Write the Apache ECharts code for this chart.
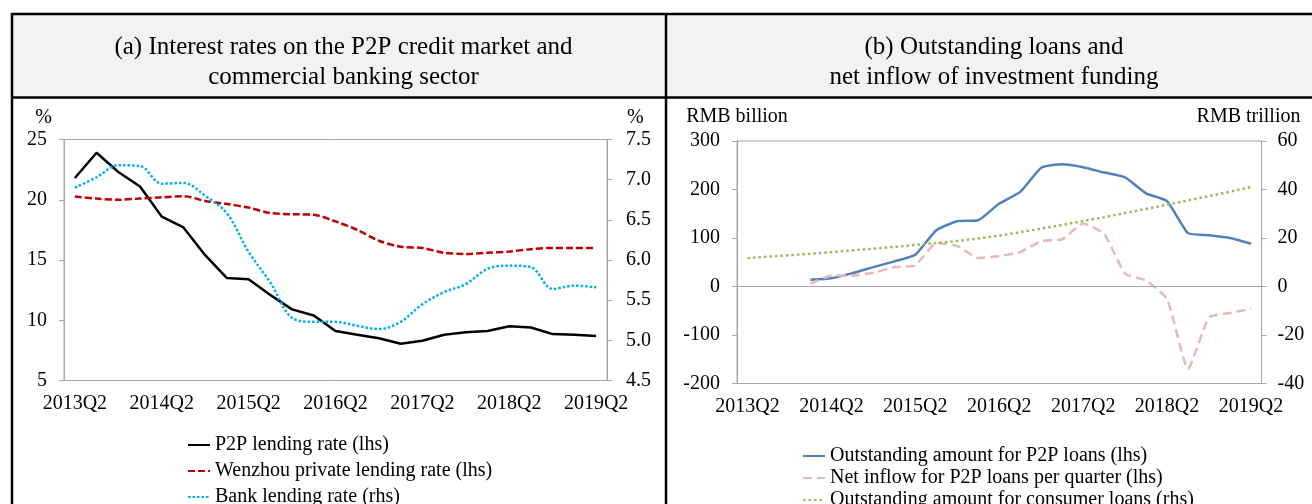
<!DOCTYPE html>
<html>
<head>
<meta charset="utf-8">
<script src="https://cdn.jsdelivr.net/npm/echarts@6/dist/echarts.min.js"></script>
<style>
  html, body { margin: 0; padding: 0; background: #fff; }
  #main { width: 1312px; height: 504px; }
</style>
</head>
<body>
<div id="main"></div>
<script>
// quarters 2013Q2 .. 2019Q2
const quarters = [
  '2013Q2','2013Q3','2013Q4','2014Q1','2014Q2','2014Q3','2014Q4','2015Q1','2015Q2',
  '2015Q3','2015Q4','2016Q1','2016Q2','2016Q3','2016Q4','2017Q1','2017Q2','2017Q3',
  '2017Q4','2018Q1','2018Q2','2018Q3','2018Q4','2019Q1','2019Q2'
];

// panel (a), %
const p2pRate = [21.8, 23.9, 22.3, 21.1, 18.6, 17.7, 15.4, 13.5, 13.4, 12.1, 10.9, 10.4, 9.1,
  8.8, 8.5, 8.05, 8.3, 8.8, 9.0, 9.1, 9.5, 9.4, 8.85, 8.8, 8.7];
const wenzhouRate = [20.27, 20.1, 20.0, 20.1, 20.2, 20.3, 19.9, 19.65, 19.35, 18.9, 18.8, 18.75, 18.2,
  17.5, 16.6, 16.1, 16.0, 15.6, 15.5, 15.6, 15.7, 15.9, 16.0, 16.0, 16.0];
const bankRate = [6.9, 7.03, 7.18, 7.17, 6.95, 6.96, 6.8, 6.58, 6.1, 5.72, 5.28, 5.23, 5.23,
  5.18, 5.14, 5.23, 5.45, 5.6, 5.7, 5.89, 5.93, 5.91, 5.64, 5.68, 5.66];

// panel (b)
const p2pOutstanding = [null, null, null, 13.9, 17.2, 27.6, 40, 51.8, 65.6, 116, 134.6, 136.6, 171,
  195, 245, 252, 246, 235, 225, 192, 176, 110, 105.6, 100, 88];
const p2pInflow = [null, null, null, 5.6, 22.8, 22.8, 28.3, 40, 43.5, 89.7, 83.5, 58.6, 62.8,
  71, 93.8, 97.3, 129.8, 109, 26.3, 12.4, -25.5, -170, -63.5, -54.5, -46];
const consumerLoans = [11.7, 12.3, 12.9, 13.5, 14.2, 14.9, 15.6, 16.3, 17.1, 17.9, 18.8, 19.8, 21.0,
  22.4, 23.9, 25.4, 27.0, 28.6, 30.3, 32.0, 33.7, 35.5, 37.3, 39.1, 41.0];

const font = 'Liberation Serif, Times New Roman, serif';
const axisGrey = '#a6a6a6';

const chart = echarts.init(document.getElementById('main'));

const xAxisBase = (grid) => ({
  type: 'category',
  gridIndex: grid,
  data: quarters,
  boundaryGap: true,
  axisLine: { lineStyle: { color: axisGrey, width: 1 } },
  axisTick: { interval: 0, length: 5, lineStyle: { color: axisGrey } },
  axisLabel: { interval: 3, margin: 13, color: '#000', fontFamily: font, fontSize: 20 },
  splitLine: { show: false }
});

const yAxisBase = (grid, pos, min, max, interval, margin) => ({
  type: 'value',
  gridIndex: grid,
  position: pos,
  min: min,
  max: max,
  interval: interval,
  axisLine: { show: true, lineStyle: { color: axisGrey, width: 1 } },
  axisTick: { show: true, length: 5, lineStyle: { color: axisGrey } },
  axisLabel: { margin: margin, color: '#000', fontFamily: font, fontSize: 20 },
  splitLine: { show: false }
});

const legendBase = {
  orient: 'vertical', itemWidth: 22, itemHeight: 14, height: 120,
  itemStyle: { opacity: 0 },
  textStyle: { fontFamily: font, fontSize: 20, color: '#000' }
};

const option = {
  animation: false,
  backgroundColor: '#fff',
  title: [
    {
      text: '(a) Interest rates on the P2P credit market and\ncommercial banking sector',
      left: 338.5, top: 27, textAlign: 'center',
      textStyle: { fontFamily: font, fontSize: 25, fontWeight: 'normal', color: '#000', lineHeight: 30 }
    },
    {
      text: '(b) Outstanding loans and\nnet inflow of investment funding',
      left: 989, top: 27, textAlign: 'center',
      textStyle: { fontFamily: font, fontSize: 25, fontWeight: 'normal', color: '#000', lineHeight: 30 }
    }
  ],
  graphic: [
    { type: 'rect', z: -10, shape: { x: 12, y: 14, width: 1300, height: 83 }, style: { fill: '#f2f2f2' } },
    { type: 'line', shape: { x1: 11, y1: 14, x2: 1312, y2: 14 }, style: { stroke: '#000', lineWidth: 2.5 } },
    { type: 'line', shape: { x1: 11, y1: 97.5, x2: 1312, y2: 97.5 }, style: { stroke: '#000', lineWidth: 2.5 } },
    { type: 'line', shape: { x1: 12, y1: 13, x2: 12, y2: 504 }, style: { stroke: '#000', lineWidth: 2.5 } },
    { type: 'line', shape: { x1: 666, y1: 13, x2: 666, y2: 504 }, style: { stroke: '#000', lineWidth: 2.5 } }
  ],
  grid: [
    { left: 64, top: 139.5, width: 543, height: 241, show: true, borderColor: axisGrey, borderWidth: 1, backgroundColor: 'transparent' },
    { left: 737, top: 141, width: 524.5, height: 242.5, show: true, borderColor: axisGrey, borderWidth: 1, backgroundColor: 'transparent' }
  ],
  legend: [
    Object.assign({}, legendBase, {
      left: 182, top: 430, itemGap: 6,
      data: ['P2P lending rate (lhs)', 'Wenzhou private lending rate (lhs)', 'Bank lending rate (rhs)']
    }),
    Object.assign({}, legendBase, {
      left: 797, top: 441, itemGap: 2,
      data: ['Outstanding amount for P2P loans (lhs)', 'Net inflow for P2P loans per quarter (lhs)',
        'Outstanding amount for consumer loans (rhs)']
    })
  ],
  xAxis: [xAxisBase(0), xAxisBase(1)],
  yAxis: [
    Object.assign(yAxisBase(0, 'left', 5, 25, 5, 17), {
      name: '%', nameLocation: 'end', nameGap: 12,
      nameTextStyle: { fontFamily: font, fontSize: 20, color: '#000', align: 'right', padding: [0, 12, 0, 0] }
    }),
    Object.assign(yAxisBase(0, 'right', 4.5, 7.5, 0.5, 19), {
      name: '%', nameLocation: 'end', nameGap: 12,
      nameTextStyle: { fontFamily: font, fontSize: 20, color: '#000', align: 'left', padding: [0, 0, 0, 20] }
    }),
    Object.assign(yAxisBase(1, 'left', -200, 300, 100, 17), {
      name: 'RMB billion', nameLocation: 'end', nameGap: 14,
      nameTextStyle: { fontFamily: font, fontSize: 20, color: '#000', align: 'center' }
    }),
    Object.assign(yAxisBase(1, 'right', -40, 60, 20, 16), {
      name: 'RMB trillion', nameLocation: 'end', nameGap: 14,
      nameTextStyle: { fontFamily: font, fontSize: 20, color: '#000', align: 'center', padding: [0, 26, 0, 0] }
    })
  ],
  series: [
    {
      name: 'P2P lending rate (lhs)', type: 'line', xAxisIndex: 0, yAxisIndex: 0,
      data: p2pRate, symbol: 'none', color: '#000',
      lineStyle: { color: '#000', width: 2.5 }
    },
    {
      name: 'Wenzhou private lending rate (lhs)', type: 'line', xAxisIndex: 0, yAxisIndex: 0,
      data: wenzhouRate, symbol: 'none', smooth: 0.3, color: '#c00000',
      lineStyle: { color: '#c00000', width: 2.5, type: [7, 3] }
    },
    {
      name: 'Bank lending rate (rhs)', type: 'line', xAxisIndex: 0, yAxisIndex: 1,
      data: bankRate, symbol: 'none', smooth: 0.35, color: '#00b0f0',
      lineStyle: { color: '#00b0f0', width: 2.5, type: [2.5, 2] }
    },
    {
      name: 'Outstanding amount for P2P loans (lhs)', type: 'line', xAxisIndex: 1, yAxisIndex: 2,
      data: p2pOutstanding, symbol: 'none', smooth: 0.15, color: '#4f81bd',
      lineStyle: { color: '#4f81bd', width: 2.5 },
      markLine: {
        silent: true, symbol: 'none', label: { show: false },
        lineStyle: { color: axisGrey, width: 1, type: 'solid' },
        data: [{ yAxis: 0 }]
      }
    },
    {
      name: 'Net inflow for P2P loans per quarter (lhs)', type: 'line', xAxisIndex: 1, yAxisIndex: 2,
      data: p2pInflow, symbol: 'none', smooth: 0.15, color: '#e6b9b8',
      lineStyle: { color: '#e6b9b8', width: 2.5, type: [9, 5] }
    },
    {
      name: 'Outstanding amount for consumer loans (rhs)', type: 'line', xAxisIndex: 1, yAxisIndex: 3,
      data: consumerLoans, symbol: 'none', color: '#9bbb59',
      lineStyle: { color: '#9bbb59', width: 2.5, type: [2.5, 3] }
    }
  ]
};

option.yAxis[1].axisLabel.formatter = (v) => v.toFixed(1);

chart.setOption(option);
</script>
</body>
</html>
